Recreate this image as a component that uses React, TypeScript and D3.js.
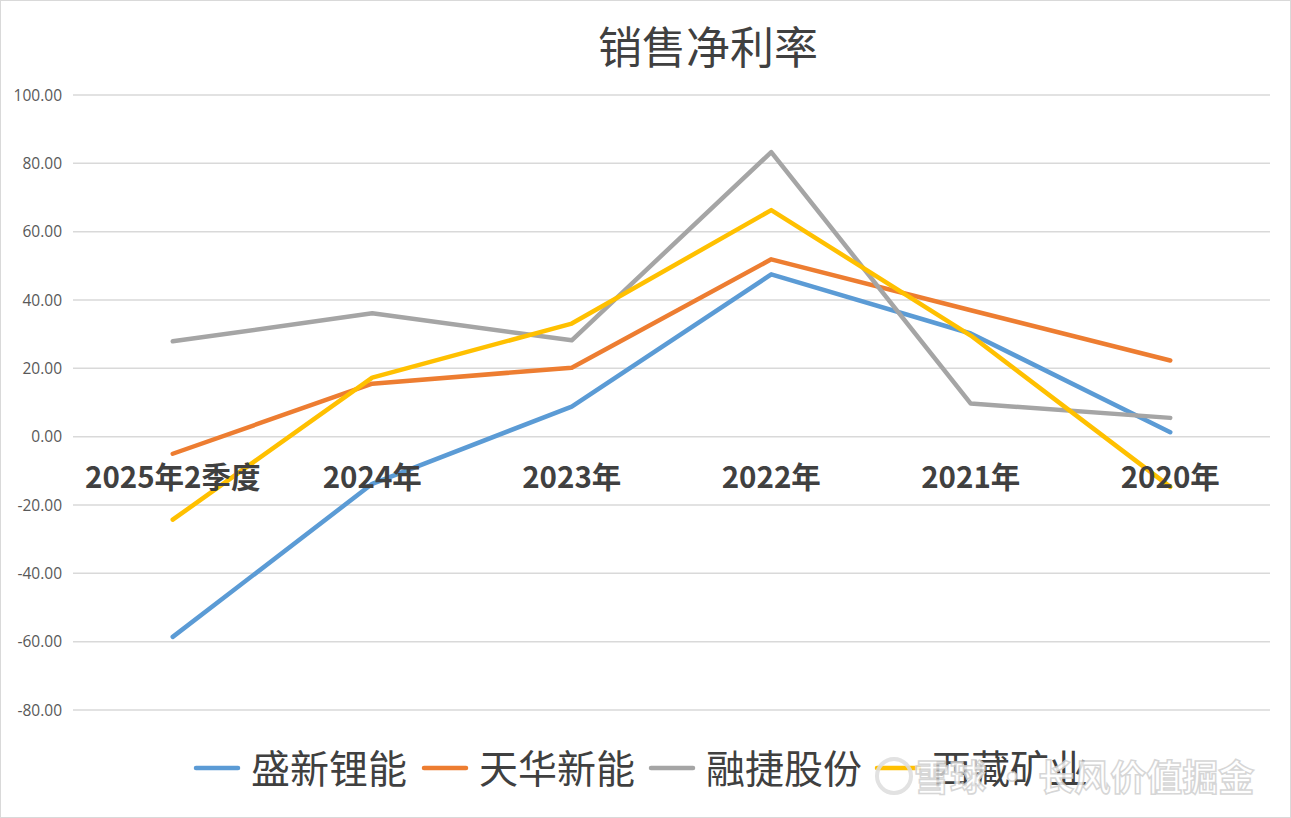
import React, { useEffect } from "react";
import * as d3 from "d3";

const categories = ["2025年2季度", "2024年", "2023年", "2022年", "2021年", "2020年"];
const seriesNames = ["盛新锂能", "天华新能", "融捷股份", "西藏矿业"];
const seriesColors = ["#5B9BD5", "#ED7D31", "#A5A5A5", "#FFC000"];
const shengxin = [-58.6, -13.8, 8.8, 47.5, 30.2, 1.3];
const tianhua = [-5.0, 15.5, 20.2, 51.9, 37.0, 22.3];
const rongjie = [27.9, 36.1, 28.2, 83.3, 9.7, 5.5];
const xizang = [-24.3, 17.3, 33.1, 66.3, 29.6, -14.7];
const yTicks = [100, 80, 60, 40, 20, 0, -20, -40, -60, -80];
const title = "销售净利率";
const watermark = "雪球 · 长风价值掘金";

const W = 1291;
const H = 818;
const left = 73;
const right = 1270;
const top = 95;
const bottom = 710;

export default function App() {
  useEffect(() => {
    document.body.style.margin = "0";
  }, []);

  const x = d3.scaleBand<string>().domain(categories).range([left, right]);
  const y = d3.scaleLinear().domain([-80, 100]).range([bottom, top]);
  const allSeries = [shengxin, tianhua, rongjie, xizang];
  const line = d3
    .line<number>()
    .x((_, i) => (x(categories[i]) as number) + x.bandwidth() / 2)
    .y((d) => y(d));

  const cjk = "'Noto Sans CJK SC', 'Noto Sans', sans-serif";
  const legendX = [196, 424, 651, 877];

  return (
    <svg width={W} height={H} style={{ display: "block", background: "#fff" }}>
      <rect x={0.5} y={0.5} width={W - 1} height={H - 1} fill="#fff" stroke="#d9d9d9" />
      <text x={708} y={64} textAnchor="middle" fontFamily={cjk} fontSize={44} fill="#404040">
        {title}
      </text>
      {yTicks.map((t) => (
        <g key={t}>
          <line x1={left} x2={right} y1={y(t)} y2={y(t)} stroke="#d9d9d9" strokeWidth={1.5} />
          <text
            x={62}
            y={y(t) + 5.5}
            textAnchor="end"
            fontFamily="'Open Sans', 'Liberation Sans', sans-serif"
            fontSize={15.5}
            fill="#595959"
          >
            {t.toFixed(2)}
          </text>
        </g>
      ))}
      {allSeries.map((s, i) => (
        <path
          key={i}
          d={line(s) as string}
          fill="none"
          stroke={seriesColors[i]}
          strokeWidth={4.5}
          strokeLinecap="round"
          strokeLinejoin="round"
        />
      ))}
      {categories.map((c) => (
        <text
          key={c}
          x={(x(c) as number) + x.bandwidth() / 2}
          y={488}
          textAnchor="middle"
          fontFamily={cjk}
          fontWeight="bold"
          fontSize={29.5}
          fill="#404040"
        >
          {c}
        </text>
      ))}
      {seriesNames.map((n, i) => (
        <g key={n}>
          <line
            x1={legendX[i]}
            x2={legendX[i] + 42}
            y1={768}
            y2={768}
            stroke={seriesColors[i]}
            strokeWidth={4.5}
            strokeLinecap="round"
          />
          <text x={legendX[i] + 55} y={783} fontFamily={cjk} fontSize={39} fill="#404040" textLength={156} lengthAdjust="spacingAndGlyphs">
            {n}
          </text>
        </g>
      ))}
      <g opacity={0.85}>
        <circle cx={894} cy={776} r={17} fill="none" stroke="#ddd" strokeWidth={4} />
        <text
          x={914}
          y={791}
          fontFamily={cjk}
          fontWeight="bold"
          fontSize={36}
          fill="#fff"
          stroke="#d0d0d0"
          strokeWidth={1.5}
        >
          {watermark}
        </text>
      </g>
    </svg>
  );
}
